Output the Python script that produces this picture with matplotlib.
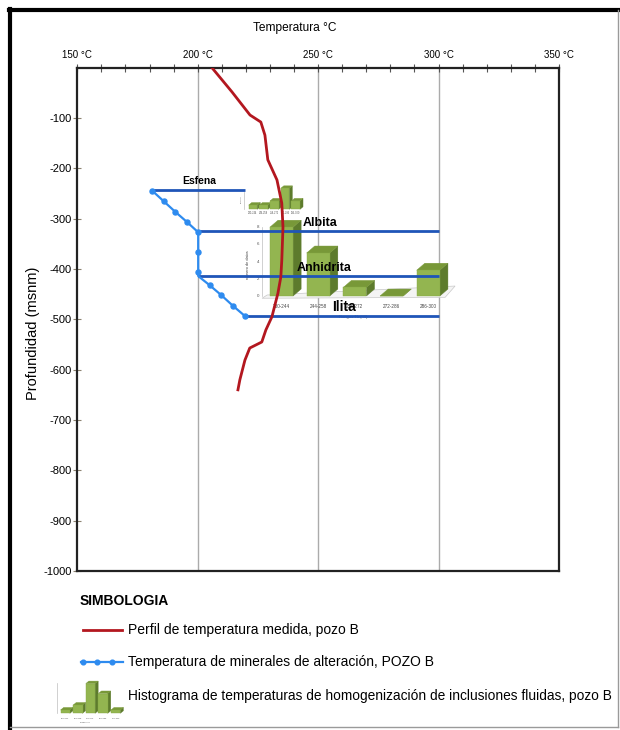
import matplotlib
matplotlib.use("Agg")
import matplotlib.pyplot as plt
from matplotlib.patches import Polygon, Rectangle
from matplotlib.lines import Line2D

plt.rcParams['font.family'] = ['Liberation Sans', 'DejaVu Sans']

# measured temperature profile, pozo B
perfil_temp = [205.9, 214.2, 221.7, 226.2, 227.9, 229.1, 232.9, 234.9, 235.4,
               234.9, 234.5, 233.3, 230.8, 228.3, 226.6, 221.6, 219.6, 217.5, 216.7]
perfil_prof = [0, -48, -94, -108, -134, -183, -223, -269, -317,
               -383, -416, -448, -495, -521, -545, -557, -581, -620, -640]

# alteration mineral temperatures
min_temp = [181, 185.8, 190.6, 195.4, 200.2, 200.2, 200.2, 200.2, 204.9, 209.8, 214.6, 219.5]
min_prof = [-244, -265, -286, -306, -327, -367, -405, -414, -432, -452, -473, -493]
min_marks = [0, 1, 2, 3, 4, 5, 6, 8, 9, 10, 11]

# mineral bands
minerales = ["Esfena", "Albita", "Anhidrita", "Ilita"]
min_t0 = [181, 200.2, 200.2, 219.5]
min_t1 = [219.7, 300, 300, 300]
min_z = [-243, -325, -414, -493]

# fluid inclusion histograms
hist_cats = ["230-244", "244-258", "258-272", "272-286", "286-300"]
hist_main = [8, 5, 1, 0, 3]
hist_small = [1, 1, 2, 5, 2]
hist_icon = [1, 2.5, 9, 6, 1]

W, H = 620, 730
RED = '#b3171f'
LBLUE = '#2e8bef'
DBLUE = '#1f55b8'


def box(l, t, r, b):
    # pixel box -> figure fraction [left, bottom, width, height]
    return [l / W, 1 - b / H, (r - l) / W, (b - t) / H]


def bars3d(a, vals, w, dx, dy, axis_x, ytop, fs, ticks=None, floor=None):
    if floor is not None:
        a.add_patch(Polygon(floor, closed=True, fc='#f4f4f4', ec='#c8c8c8', lw=0.5, zorder=1))
    a.plot([axis_x, axis_x], [0, ytop], color='#bdbdbd', lw=0.5, zorder=1)
    if ticks is not None:
        for t in ticks:
            a.text(axis_x - 0.08, t, str(t), fontsize=fs, ha='right', va='center', color='#555555')
    for i, v in enumerate(vals):
        x0, x1 = i - w / 2, i + w / 2
        a.add_patch(Polygon([(x1, 0), (x1 + dx, dy), (x1 + dx, v + dy), (x1, v)],
                            fc='#5d7b2c', ec='#5d7b2c', lw=0.3, zorder=2))
        a.add_patch(Polygon([(x0, v), (x1, v), (x1 + dx, v + dy), (x0 + dx, v + dy)],
                            fc='#789838', ec='#789838', lw=0.3, zorder=2))
        a.add_patch(Rectangle((x0, 0), w, v, fc='#93b550', ec='#86a845', lw=0.3, zorder=3))


fig = plt.figure(figsize=(6.2, 7.3), dpi=100)

# main axes
ax = fig.add_axes(box(77.3, 67.7, 559, 571))
ax.set_xlim(150, 350)
ax.set_ylim(-1000, 0)
ax.xaxis.tick_top()
ax.set_xticks([150, 200, 250, 300, 350])
ax.set_xticklabels([f"{t} °C" for t in [150, 200, 250, 300, 350]], fontsize=7)
ax.set_xticks(range(150, 351, 10), minor=True)
ax.set_yticks(range(-100, -1001, -100))
ax.set_yticklabels([str(t) for t in range(-100, -1001, -100)], fontsize=8)
ax.tick_params(axis='x', which='both', direction='inout', length=6, width=0.8,
               color='#555555', pad=2.5)
ax.tick_params(axis='y', direction='inout', length=6, width=0.8, color='#8c8270', pad=1)
for s in ax.spines.values():
    s.set_linewidth(1.6)
    s.set_color('#222222')
for t in [200, 250, 300]:
    ax.axvline(t, color='#ababab', lw=1, zorder=0)
ax.set_ylabel("Profundidad (msnm)", fontsize=10.5)
ax.yaxis.set_label_coords(-0.077, 0.472)

# histogram insets
h1 = fig.add_axes(box(255, 216, 460, 301), zorder=1)
h1.set_xlim(-0.722, 4.864)
h1.set_ylim(-0.58, 9.3)
h1.axis('off')
bars3d(h1, hist_main, 0.63, 0.22, 0.81, -0.53, 8.0, 3.2, ticks=[0, 2, 4, 6, 8],
       floor=[(-0.53, -0.26), (4.46, -0.15), (4.73, 1.16), (-0.39, 0.12)])
for i, c in enumerate(hist_cats):
    h1.text(i, -1.2, c, fontsize=3.3, ha='center', va='center', color='#444444', clip_on=False)
h1.text(1.95, -2.45, "Rangos Th (°C)", fontsize=3, ha='center', va='center', color='#444444', clip_on=False)
h1.text(-0.9, 3.6, "número de datos", fontsize=2.8, rotation=90, ha='center', va='center', color='#444444')

h2 = fig.add_axes(box(238, 185, 306, 216), zorder=1)
h2.set_xlim(-1.4, 4.96)
h2.set_ylim(-1.6, 5.8)
h2.axis('off')
bars3d(h2, hist_small, 0.8, 0.28, 0.6, -0.81, 4.2, 1.6)
for i, c in enumerate(hist_cats):
    h2.text(i, -0.9, c, fontsize=1.8, ha='center', va='center', color='#555555')
h2.text(-1.05, 2.5, "número", fontsize=1.6, rotation=90, ha='center', va='center', color='#555555')

# overlay for lines
ov = fig.add_axes(ax.get_position(), zorder=2)
ov.set_xlim(150, 350)
ov.set_ylim(-1000, 0)
ov.patch.set_alpha(0)
ov.axis('off')
for name, t0, t1, z in zip(minerales, min_t0, min_t1, min_z):
    ov.plot([t0, t1], [z, z], color=DBLUE, lw=2, solid_capstyle='butt')
ov.plot(min_temp, min_prof, color=LBLUE, lw=1.6, marker='o', ms=3.6, markevery=min_marks)
ov.plot(perfil_temp, perfil_prof, color=RED, lw=2)
ov.text(193.5, -226, "Esfena", fontsize=7.5, fontweight='bold', ha='left', va='center')
ov.text(243.6, -309, "Albita", fontsize=9, fontweight='bold', ha='left', va='center')
ov.text(241.0, -398, "Anhidrita", fontsize=9, fontweight='bold', ha='left', va='center')
ov.text(256.0, -476, "Ilita", fontsize=10, fontweight='bold', ha='left', va='center')

# title
fig.text(295 / W, 1 - 28 / H, "Temperatura °C", fontsize=8.6, ha='center', va='center')

# legend (simbologia)
fig.text(80 / W, 1 - 601 / H, "SIMBOLOGIA", fontsize=10, fontweight='bold', ha='left', va='center')
fig.add_artist(Line2D([83 / W, 122 / W], [1 - 630 / H] * 2, color=RED, lw=2))
fig.text(128 / W, 1 - 630 / H, "Perfil de temperatura medida, pozo B", fontsize=10,
         ha='left', va='center')
fig.add_artist(Line2D([81 / W, 123 / W], [1 - 662 / H] * 2, color=LBLUE, lw=1.6))
fig.add_artist(Line2D([83 / W, 97 / W, 112 / W], [1 - 662 / H] * 3, color=LBLUE, lw=0,
                      marker='o', ms=3.4))
fig.text(128 / W, 1 - 662 / H, "Temperatura de minerales de alteración, POZO B", fontsize=10,
         ha='left', va='center')
h3 = fig.add_axes(box(50, 678, 126, 726))
h3.set_xlim(-1.21, 4.82)
h3.set_ylim(-3.85, 10.7)
h3.axis('off')
bars3d(h3, hist_icon, 0.74, 0.24, 0.76, -0.68, 9.2, 1.5)
for i, c in enumerate(hist_cats):
    h3.text(i, -1.7, c, fontsize=1.6, ha='center', va='center', color='#555555')
h3.text(1.57, -2.9, "Rango Th", fontsize=1.6, ha='center', va='center', color='#555555')
fig.text(128 / W, 1 - 696 / H, "Histograma de temperaturas de homogenización de inclusiones fluidas, pozo B",
         fontsize=9.9, ha='left', va='center')

# page frame
fig.add_artist(Line2D([10 / W, 10 / W], [0, 1 - 9 / H], color='black', lw=3))
fig.add_artist(Line2D([9 / W, 1], [1 - 10 / H] * 2, color='black', lw=3))
fig.add_artist(Line2D([618 / W, 618 / W], [1 - 727 / H, 1 - 10 / H], color='#9a9a9a', lw=1))
fig.add_artist(Line2D([10 / W, 618 / W], [1 - 727 / H] * 2, color='#9a9a9a', lw=1))

fig.savefig("out.png", dpi=100)
